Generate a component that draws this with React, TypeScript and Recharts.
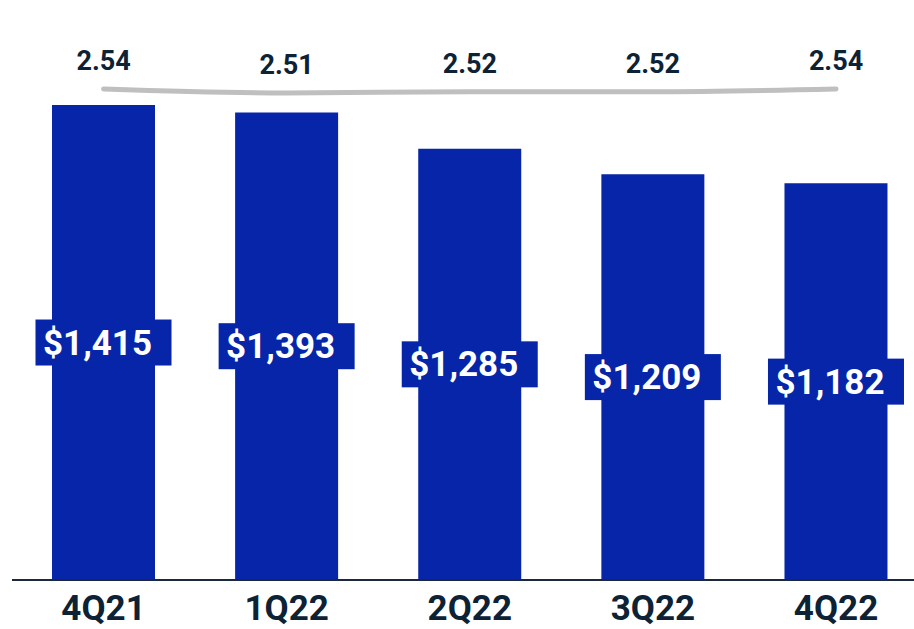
import {
  ComposedChart,
  Bar,
  Line,
  XAxis,
  YAxis,
  LabelList,
} from 'recharts'

const quarters = ['4Q21', '1Q22', '2Q22', '3Q22', '4Q22']
const amounts = [1415, 1393, 1285, 1209, 1182]
const ratios = [2.54, 2.51, 2.52, 2.52, 2.54]

const data = quarters.map((q, i) => ({ quarter: q, amount: amounts[i], ratio: ratios[i] }))

const BLUE = '#0625a8'
const NAVY = '#0d2235'
const FONT = 'Roboto, "Noto Sans", sans-serif'

// white dollar figure in a blue box, sitting in the middle of the bar
const AmountLabel = (props: any) => {
  const { x, y, width, height, value } = props
  const cx = x + width / 2
  const cy = y + height / 2
  const boxW = 136
  const boxH = 46
  return (
    <g>
      <rect x={cx - boxW / 2} y={cy - boxH / 2} width={boxW} height={boxH} fill={BLUE} />
      <text
        x={cx - 6}
        y={cy + 12}
        textAnchor="middle"
        fill="#fff"
        fontFamily={FONT}
        fontWeight={700}
        fontSize={35}
      >
        ${Number(value).toLocaleString('en-US')}
      </text>
    </g>
  )
}

const RatioLabel = (props: any) => {
  const { x, y, value } = props
  return (
    <text
      x={x}
      y={y - 19}
      textAnchor="middle"
      fill={NAVY}
      fontFamily={FONT}
      fontWeight={700}
      fontSize={27}
    >
      {Number(value).toFixed(2)}
    </text>
  )
}

// quarter names under the axis line
const QuarterTick = (props: any) => {
  const { x, y, payload } = props
  return (
    <text
      x={x}
      y={y + 34}
      textAnchor="middle"
      fill={NAVY}
      fontFamily={FONT}
      fontWeight={700}
      fontSize={35}
    >
      {payload.value}
    </text>
  )
}

export default function App() {
  return (
    <div style={{ width: 914, height: 629, overflow: 'hidden', background: '#fff' }}>
      <style>{'body{margin:0}'}</style>
      <ComposedChart
        width={930}
        height={629}
        data={data}
        margin={{ top: 76.5, right: 0, left: 12, bottom: 0 }}
      >
        <XAxis
          dataKey="quarter"
          height={49}
          padding={{ left: 0, right: 2.4 }}
          axisLine={{ stroke: '#1b2a3a', strokeWidth: 2 }}
          tickLine={false}
          tickMargin={0}
          tick={<QuarterTick />}
          interval={0}
        />
        <YAxis yAxisId="left" domain={[0, 1500]} hide />
        <YAxis yAxisId="right" orientation="right" domain={[-1.143, 2.634]} hide />
        <Bar yAxisId="left" dataKey="amount" fill={BLUE} barSize={103} isAnimationActive={false}>
          <LabelList dataKey="amount" content={<AmountLabel />} />
        </Bar>
        <Line
          yAxisId="right"
          type="monotone"
          dataKey="ratio"
          stroke="#bfbfbf"
          strokeWidth={5}
          strokeLinecap="round"
          dot={false}
          activeDot={false}
          isAnimationActive={false}
        >
          <LabelList dataKey="ratio" content={<RatioLabel />} />
        </Line>
      </ComposedChart>
    </div>
  )
}
